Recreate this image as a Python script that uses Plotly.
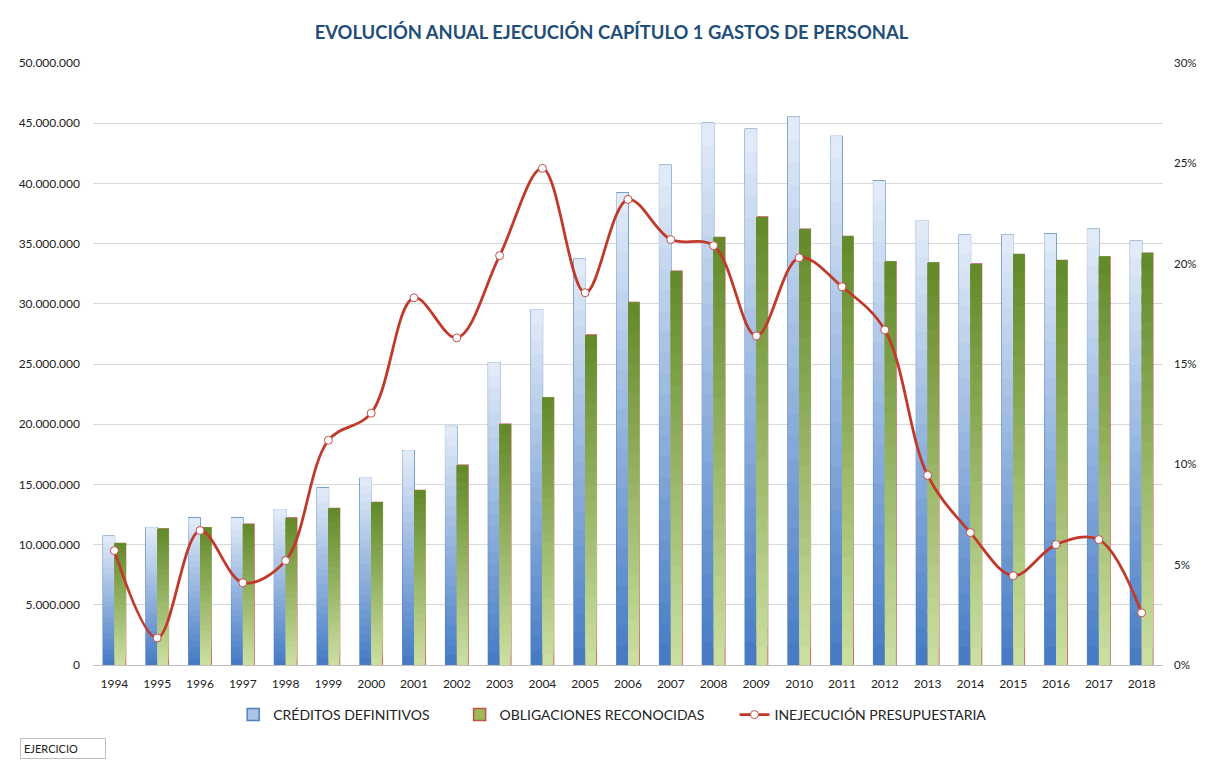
import plotly.graph_objects as go

years = [str(y) for y in range(1994, 2019)]
creditos = [10.7e6, 11.4e6, 12.2e6, 12.2e6, 12.9e6, 14.7e6, 15.5e6, 17.8e6, 19.8e6, 25.1e6,
            29.5e6, 33.7e6, 39.2e6, 41.5e6, 45.0e6, 44.5e6, 45.5e6, 43.9e6, 40.2e6, 36.9e6,
            35.7e6, 35.7e6, 35.8e6, 36.2e6, 35.2e6]
obligaciones = [10.1e6, 11.3e6, 11.4e6, 11.7e6, 12.2e6, 13.0e6, 13.5e6, 14.5e6, 16.6e6, 20.0e6,
                22.2e6, 27.4e6, 30.1e6, 32.7e6, 35.5e6, 37.2e6, 36.2e6, 35.6e6, 33.5e6, 33.4e6,
                33.3e6, 34.1e6, 33.6e6, 33.9e6, 34.2e6]
inejecucion = [5.7, 1.35, 6.7, 4.1, 5.2, 11.2, 12.55, 18.3, 16.3, 20.4,
               24.75, 18.55, 23.2, 21.2, 20.9, 16.4, 20.3, 18.85, 16.7, 9.45,
               6.6, 4.45, 6.0, 6.25, 2.6]

FONT = "Lato"
N = 24
PAD = "&nbsp;" * 7


def lerp(c1, c2, t):
    return "rgb({},{},{})".format(*[round(a + (b - a) * t) for a, b in zip(c1, c2)])


fig = go.Figure()

# legend / outline traces (drawn beneath gradient slices)
fig.add_trace(go.Bar(x=years, y=creditos, name="CRÉDITOS DEFINITIVOS" + PAD, offsetgroup="c",
                     marker=dict(color="#A9C4E6", line=dict(color="#4F81BD", width=1.5))))
fig.add_trace(go.Bar(x=years, y=obligaciones, name="OBLIGACIONES RECONOCIDAS" + PAD, offsetgroup="o",
                     marker=dict(color="#9BBB59", line=dict(color="#C0504D", width=1.5))))

blue_bottom, blue_top = (68, 122, 196), (228, 237, 248)
green_bottom, green_top = (204, 224, 162), (98, 136, 40)
for i in range(N):
    t = (i + 0.5) / N
    fig.add_trace(go.Bar(x=years, y=[v - v * i / N for v in creditos], base=[v * i / N for v in creditos],
                         offsetgroup="c", showlegend=False, hoverinfo="skip",
                         marker=dict(color=lerp(blue_bottom, blue_top, t), line=dict(width=0))))
    fig.add_trace(go.Bar(x=years, y=[v - v * i / N for v in obligaciones], base=[v * i / N for v in obligaciones],
                         offsetgroup="o", showlegend=False, hoverinfo="skip",
                         marker=dict(color=lerp(green_bottom, green_top, t), line=dict(width=0))))

fig.add_trace(go.Scatter(x=years, y=inejecucion, name="INEJECUCIÓN PRESUPUESTARIA", yaxis="y2",
                         mode="lines+markers", line=dict(color="#C0392B", width=2.8, shape="spline", smoothing=1.0),
                         marker=dict(size=8, color="white", line=dict(color="#C0504D", width=1))))

fig.update_layout(
    width=1201, height=755,
    paper_bgcolor="white", plot_bgcolor="white",
    separators=",.",
    barmode="group", bargap=0.48, bargroupgap=0,
    margin=dict(l=85, r=46, t=55, b=98, autoexpand=False),
    font=dict(family=FONT, size=12, color="#222222"),
    title=dict(text="<b>EVOLUCIÓN ANUAL EJECUCIÓN CAPÍTULO 1 GASTOS DE PERSONAL</b>",
               x=0.5025, xanchor="center", y=0.967, yanchor="middle",
               font=dict(family=FONT, size=18.4, color="#1F4E79")),
    xaxis=dict(type="category", range=[-0.5, 24.5], showgrid=False, showline=True, linecolor="#BFBFBF",
               ticks="", ticklabelstandoff=8, tickfont=dict(size=12, color="#222222")),
    yaxis=dict(range=[0, 50e6], dtick=5e6, tickformat=",d", showgrid=True, gridcolor="#D9D9D9",
               zeroline=False, ticks="", ticklabelstandoff=12, tickfont=dict(size=12, color="#222222")),
    yaxis2=dict(range=[0, 30], dtick=5, ticksuffix="%", overlaying="y", side="right", showgrid=False,
                zeroline=False, ticks="", ticklabelstandoff=10, tickfont=dict(size=11.5, color="#222222")),
    legend=dict(orientation="h", x=0.131, xanchor="left", y=-0.083, yanchor="middle",
                font=dict(family=FONT, size=14, color="#222222"), traceorder="normal"),
    showlegend=True,
)

fig.add_annotation(text="EJERCICIO", xref="paper", yref="paper", x=-0.068, y=-0.1395,
                   xanchor="left", yanchor="middle", showarrow=False,
                   font=dict(family=FONT, size=11, color="#222222"),
                   bordercolor="#BFBFBF", borderwidth=1, borderpad=3, width=78, align="left")

fig.write_html("out.html")
